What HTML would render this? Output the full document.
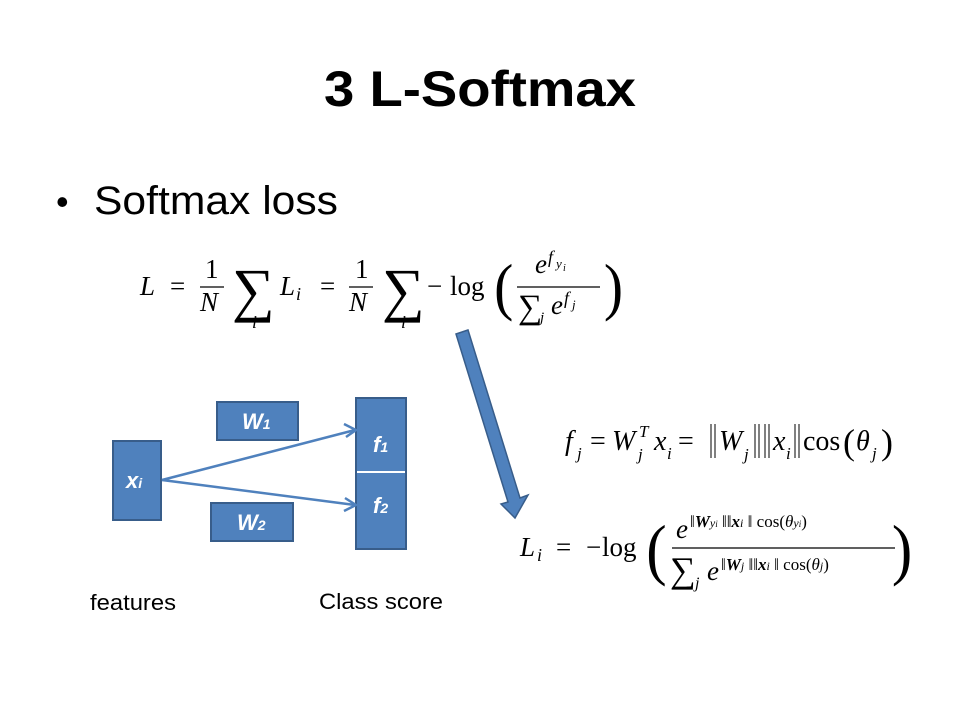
<!DOCTYPE html>
<html><head><meta charset="utf-8"><style>
html,body{margin:0;padding:0;background:#fff;}
svg{display:block;}
</style></head><body>
<svg width="960" height="720" viewBox="0 0 960 720" xmlns="http://www.w3.org/2000/svg">
<rect width="960" height="720" fill="#fff"/>
<text x="480" y="106" text-anchor="middle" font-family="Liberation Sans, sans-serif" font-weight="bold" font-size="50" textLength="312" lengthAdjust="spacingAndGlyphs">3 L-Softmax</text>
<text x="56" y="214" font-family="Liberation Sans, sans-serif" font-size="36">•</text>
<text x="94" y="214" font-family="Liberation Sans, sans-serif" font-size="40" textLength="244" lengthAdjust="spacingAndGlyphs">Softmax loss</text>

<!-- Equation 1 -->
<g font-family="Liberation Serif, serif" font-size="27" fill="#000">
<text x="140" y="295" font-style="italic">L</text>
<text x="170" y="295">=</text>
<text x="205" y="278">1</text>
<line x1="200" y1="287" x2="224" y2="287" stroke="#000" stroke-width="1.3"/>
<text x="200" y="311" font-style="italic">N</text>
<text x="232" y="310" font-size="60">∑</text>
<text x="252" y="328" font-style="italic" font-size="18">i</text>
<text x="280" y="295" font-style="italic">L</text>
<text x="296" y="300" font-style="italic" font-size="18">i</text>
<text x="320" y="295">=</text>
<text x="355" y="278">1</text>
<line x1="349" y1="287" x2="373" y2="287" stroke="#000" stroke-width="1.3"/>
<text x="349" y="311" font-style="italic">N</text>
<text x="382" y="310" font-size="60">∑</text>
<text x="401" y="328" font-style="italic" font-size="18">i</text>
<text x="427" y="295">−</text>
<text x="450" y="295">log</text>
<text x="494" y="308" font-size="64" transform="scale(0.9,1) translate(55,0)">(</text>
<text x="535" y="273" font-style="italic">e</text>
<text x="548" y="263" font-style="italic" font-size="18">f</text>
<text x="556" y="268" font-style="italic" font-size="13">y</text>
<text x="563" y="271" font-style="italic" font-size="10">i</text>
<line x1="517" y1="287" x2="600" y2="287" stroke="#000" stroke-width="1.3"/>
<text x="518" y="318" font-size="34">∑</text>
<text x="540" y="322" font-style="italic" font-size="15">j</text>
<text x="551" y="314" font-style="italic">e</text>
<text x="564" y="304" font-style="italic" font-size="18">f</text>
<text x="572" y="309" font-style="italic" font-size="13">j</text>
<text x="604" y="308" font-size="64" transform="scale(0.9,1) translate(67,0)">)</text>
</g>

<!-- Big arrow -->
<polygon points="456,334 468,330 520,498 528,495 515,518 501,504 508,502" fill="#4f81bd" stroke="#385d8a" stroke-width="1.5"/>

<!-- Diagram -->
<g fill="#4f81bd" stroke="#385d8a" stroke-width="2">
<rect x="113" y="441" width="48" height="79"/>
<rect x="217" y="402" width="81" height="38"/>
<rect x="211" y="503" width="82" height="38"/>
<rect x="356" y="398" width="50" height="151"/>
</g>
<line x1="357" y1="472" x2="405" y2="472" stroke="#fff" stroke-width="2"/>
<g stroke="#4f81bd" stroke-width="2.5" fill="none">
<line x1="162" y1="480" x2="355" y2="430"/>
<line x1="162" y1="480" x2="355" y2="505"/>
<polyline points="344,424 356,430 346,437"/>
<polyline points="345,498 356,505 344,511"/>
</g>
<g font-family="Liberation Sans, sans-serif" font-weight="bold" font-style="italic" fill="#fff">
<text x="126" y="488" font-size="22">x<tspan font-size="14">i</tspan></text>
<text x="242" y="429" font-size="22">W<tspan font-size="14">1</tspan></text>
<text x="237" y="530" font-size="22">W<tspan font-size="14">2</tspan></text>
<text x="373" y="452" font-size="22">f<tspan font-size="14">1</tspan></text>
<text x="373" y="513" font-size="22">f<tspan font-size="14">2</tspan></text>
</g>
<text x="90" y="610" font-family="Liberation Sans, sans-serif" font-size="22" textLength="86" lengthAdjust="spacingAndGlyphs">features</text>
<text x="319" y="609" font-family="Liberation Sans, sans-serif" font-size="22" textLength="124" lengthAdjust="spacingAndGlyphs">Class score</text>

<!-- Equation 2 -->
<g font-family="Liberation Serif, serif" font-size="28" fill="#000">
<text x="565" y="450" font-style="italic">f</text>
<text x="577" y="459" font-style="italic" font-size="17">j</text>
<text x="590" y="450">=</text>
<text x="612" y="450" font-style="italic">W</text>
<text x="638" y="460" font-style="italic" font-size="17">j</text>
<text x="639" y="437" font-style="italic" font-size="17">T</text>
<text x="654" y="450" font-style="italic">x</text>
<text x="667" y="459" font-style="italic" font-size="17">i</text>
<text x="678" y="450">=</text>
<line x1="711" y1="424" x2="711" y2="458" stroke="#000" stroke-width="1"/>
<line x1="715" y1="424" x2="715" y2="458" stroke="#000" stroke-width="1"/>
<text x="719" y="450" font-style="italic">W</text>
<text x="744" y="460" font-style="italic" font-size="17">j</text>
<line x1="755" y1="424" x2="755" y2="458" stroke="#000" stroke-width="1"/>
<line x1="759" y1="424" x2="759" y2="458" stroke="#000" stroke-width="1"/>
<line x1="765" y1="424" x2="765" y2="458" stroke="#000" stroke-width="1"/>
<line x1="769" y1="424" x2="769" y2="458" stroke="#000" stroke-width="1"/>
<text x="773" y="450" font-style="italic">x</text>
<text x="786" y="459" font-style="italic" font-size="17">i</text>
<line x1="795" y1="424" x2="795" y2="458" stroke="#000" stroke-width="1"/>
<line x1="799" y1="424" x2="799" y2="458" stroke="#000" stroke-width="1"/>
<text x="803" y="450">cos</text>
<text x="843" y="454" font-size="36">(</text>
<text x="856" y="450" font-style="italic">θ</text>
<text x="872" y="459" font-style="italic" font-size="17">j</text>
<text x="881" y="454" font-size="36">)</text>
</g>

<!-- Equation 3 -->
<g font-family="Liberation Serif, serif" font-size="27" fill="#000">
<text x="520" y="556" font-style="italic">L</text>
<text x="537" y="561" font-style="italic" font-size="18">i</text>
<text x="556" y="556">=</text>
<text x="586" y="556">−</text>
<text x="602" y="556">log</text>
<text x="646" y="572" font-size="68" transform="scale(0.9,1) translate(72,0)">(</text>
<text x="676" y="538" font-style="italic">e</text>
<text x="690" y="527" font-size="17">‖<tspan font-weight="bold" font-style="italic">W</tspan><tspan font-style="italic" font-size="12">y</tspan><tspan font-style="italic" font-size="9">i</tspan> ‖‖<tspan font-weight="bold" font-style="italic">x</tspan><tspan font-style="italic" font-size="12">i</tspan> ‖ cos(<tspan font-style="italic">θ</tspan><tspan font-style="italic" font-size="12">y</tspan><tspan font-style="italic" font-size="9">i</tspan>)</text>
<line x1="672" y1="548" x2="895" y2="548" stroke="#000" stroke-width="1.3"/>
<text x="670" y="582" font-size="36">∑</text>
<text x="695" y="588" font-style="italic" font-size="16">j</text>
<text x="707" y="580" font-style="italic">e</text>
<text x="721" y="570" font-size="17">‖<tspan font-weight="bold" font-style="italic">W</tspan><tspan font-style="italic" font-size="12">j</tspan> ‖‖<tspan font-weight="bold" font-style="italic">x</tspan><tspan font-style="italic" font-size="12">i</tspan> ‖ cos(<tspan font-style="italic">θ</tspan><tspan font-style="italic" font-size="12">j</tspan>)</text>
<text x="893" y="572" font-size="68" transform="scale(0.9,1) translate(98,0)">)</text>
</g>
</svg>
</body></html>
